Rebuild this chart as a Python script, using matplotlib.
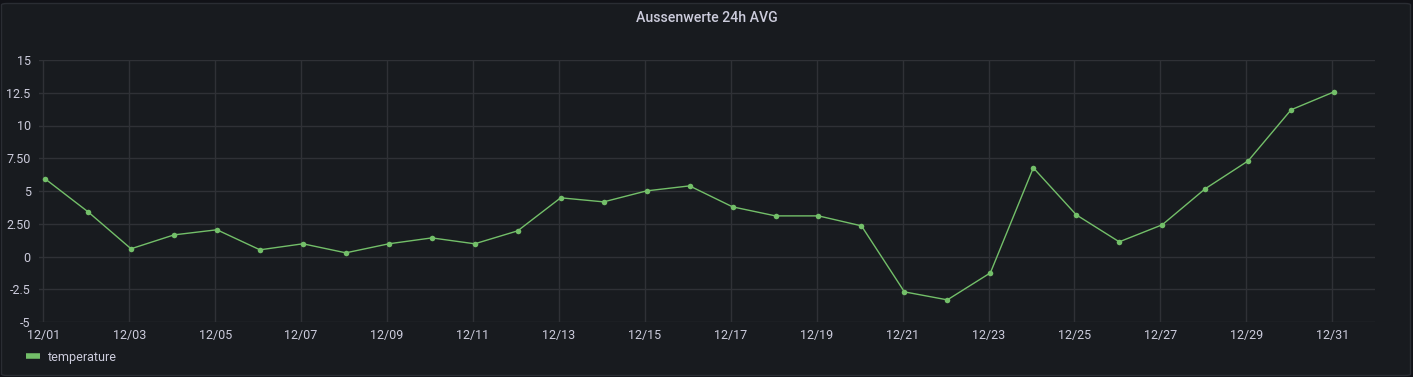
import matplotlib
matplotlib.use("Agg")
import matplotlib.pyplot as plt
import matplotlib.dates as mdates
from matplotlib.patches import FancyBboxPatch
from matplotlib.lines import Line2D
import numpy as np
import datetime as dt

title = "Aussenwerte 24h AVG"
series_name = "temperature"
days = [dt.datetime(2023, 12, d, 1) for d in range(1, 32)]
temperature = [5.93, 3.41, 0.59, 1.65, 2.04, 0.51, 0.97, 0.28, 0.97, 1.42,
               0.97, 1.96, 4.48, 4.17, 5.01, 5.39, 3.79, 3.10, 3.10, 2.34,
               -2.70, -3.31, -1.25, 6.77, 3.18, 1.12, 2.42, 5.17, 7.30, 11.20,
               12.57]
y_ticks = [-5, -2.5, 0, 2.5, 5, 7.5, 10, 12.5, 15]
y_tick_labels = ["-5", "-2.5", "0", "2.50", "5", "7.50", "10", "12.5", "15"]

W, H = 1413, 377
BG_OUT = "#111217"
BG = "#181b1f"
TXT = "#ccccdc"
GRID = "#2f3136"
LINE = "#73bf69"

plt.rcParams['font.family'] = ['Roboto', 'DejaVu Sans']
fig = plt.figure(figsize=(W / 100, H / 100), dpi=100, facecolor=BG_OUT)

panel = FancyBboxPatch((1.5 / W, 1.5 / H), (W - 4) / W, (H - 5) / H,
                       boxstyle="round,pad=0,rounding_size=0.004",
                       transform=fig.transFigure, facecolor=BG,
                       edgecolor="#2a2d33", linewidth=1, zorder=-10)
fig.patches.append(panel)

ax = fig.add_axes([39 / W, 1 - 322 / H, (1375 - 39) / W, (322 - 60) / H])
ax.set_zorder(5)
ax.set_facecolor(BG)
ax.plot(days, temperature, color=LINE, linewidth=1, marker="o",
        markersize=4, markeredgewidth=0, zorder=3)

x0 = mdates.date2num(dt.datetime(2023, 12, 1))
x1 = mdates.date2num(dt.datetime(2023, 12, 31))
ax.set_xlim(x0 - 0.1, x1 + 0.994)
ax.set_ylim(-5, 15)
ax.set_yticks(y_ticks)
ax.set_yticklabels(y_tick_labels)
ax.xaxis.set_major_locator(mdates.DayLocator(bymonthday=range(1, 32, 2)))
ax.xaxis.set_major_formatter(mdates.DateFormatter("%m/%d"))

ax.grid(True, color=GRID, linewidth=1)
ax.set_axisbelow(True)
for s in ax.spines.values():
    s.set_visible(False)
ax.tick_params(axis="both", length=0, colors=TXT, labelsize=9)
ax.tick_params(axis="y", pad=6)
ax.tick_params(axis="x", pad=5)

fig.text(0.5, 1 - 18 / H, title, ha="center", va="center", color=TXT,
         fontsize=10.2, fontweight="medium", zorder=6)

fig.lines.append(Line2D([26 / W, 40 / W], [1 - 356 / H, 1 - 356 / H],
                        transform=fig.transFigure, color=LINE, linewidth=4,
                        solid_capstyle="butt", zorder=6))
fig.text(48 / W, 1 - 357 / H, series_name, ha="left", va="center",
         color=TXT, fontsize=9, zorder=6)

fig.savefig("out.png", dpi=100, facecolor=BG_OUT)
